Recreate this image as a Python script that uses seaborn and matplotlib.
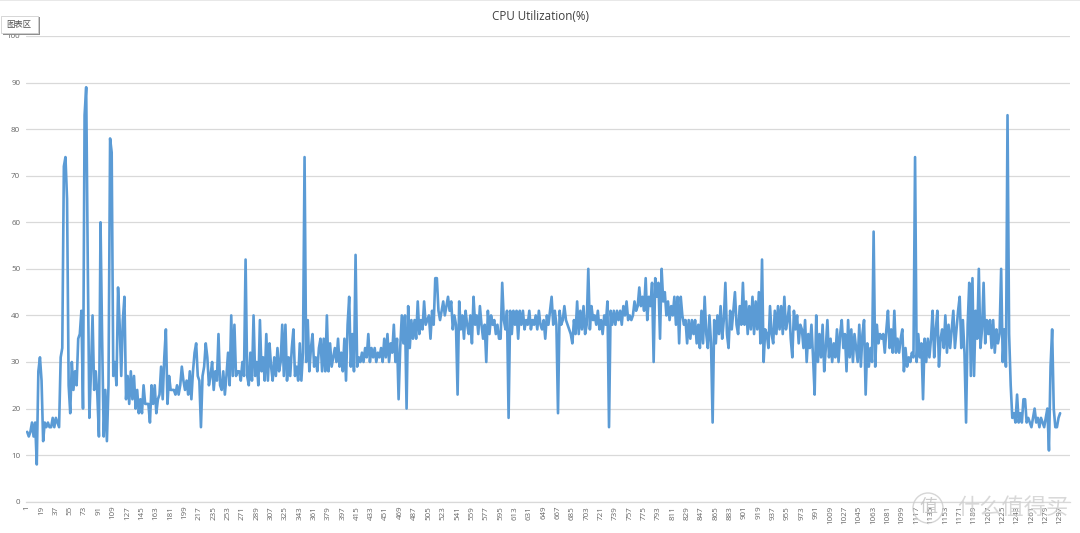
import matplotlib.pyplot as plt
from matplotlib.patches import Circle, Rectangle
import numpy as np
import pandas as pd
import seaborn as sns

# values, one reading every 2 samples, one row per tick interval (18 samples)
cpu_start = [
    15, 14, 15, 17, 14, 17, 8, 28, 31,
    26, 13, 17, 16, 17, 16, 16, 18, 16,
    18, 17, 16, 31, 33, 72, 74, 65, 25,
    19, 30, 24, 28, 25, 35, 36, 41, 20,
    83, 89, 51, 18, 28, 40, 24, 28, 23,
    14, 60, 35, 14, 24, 13, 25, 78, 75,
    27, 30, 25, 46, 38, 27, 39, 44, 22,
    27, 21, 28, 22, 27, 20, 24, 19, 22,
    19, 25, 21, 21, 21, 17, 25, 21, 25,
    19, 22, 23, 29, 22, 31, 37, 21, 27,
]
cpu_rise = [
    24, 24, 24, 23, 25, 23, 25, 29, 26,
    24, 26, 23, 28, 22, 28, 32, 34, 27,
    26, 16, 27, 29, 34, 31, 25, 27, 30,
    24, 28, 26, 36, 25, 24, 28, 23, 27,
    32, 25, 40, 27, 38, 27, 28, 28, 26,
    30, 27, 52, 27, 25, 32, 26, 40, 27,
    30, 25, 39, 28, 31, 26, 36, 26, 34,
    29, 26, 31, 27, 33, 28, 30, 38, 27,
    38, 26, 31, 27, 33, 37, 27, 29, 26,
    34, 26, 32, 74, 30, 39, 28, 33, 36,
    29, 31, 28, 33, 35, 28, 35, 28, 40,
    28, 34, 29, 31, 33, 30, 35, 29, 32,
    28, 35, 26, 38, 44, 29, 36, 28, 53,
    29, 31, 30, 32, 30, 33, 31, 36, 30,
    33, 31, 33, 30, 32, 31, 33, 30, 35,
    31, 36, 30, 34, 32, 38, 30, 35, 22,
]
cpu_plateau = [
    33, 40, 34, 40, 20, 42, 33, 39, 35,
    39, 35, 43, 36, 39, 37, 43, 38, 39,
    40, 35, 41, 38, 48, 48, 41, 39, 41,
    43, 40, 42, 44, 41, 43, 37, 40, 38,
    23, 43, 37, 40, 35, 41, 38, 36, 40,
    34, 44, 38, 40, 36, 42, 38, 35, 38,
    30, 41, 36, 40, 38, 39, 36, 38, 35,
    35, 47, 39, 37, 41, 18, 41, 36, 41,
    38, 41, 35, 41, 38, 41, 37, 39, 38,
    41, 37, 39, 38, 40, 37, 41, 38, 37,
    39, 35, 40, 38, 41, 44, 38, 41, 38,
    19, 41, 38, 39, 42, 39, 38, 37, 36,
    34, 39, 36, 43, 36, 41, 37, 42, 36,
    38, 50, 37, 42, 39, 40, 38, 41, 37,
    39, 36, 40, 38, 43, 16, 41, 38, 41,
    38, 41, 39, 41, 38, 42, 40, 43, 39,
    40, 39, 40, 43, 41, 42, 46, 42, 44,
    41, 48, 39, 44, 42, 47, 30, 48, 44,
    47, 35, 50, 43, 45, 40, 43, 39, 42,
    40, 44, 38, 44, 34, 44, 40, 38, 39,
    34, 39, 35, 39, 36, 39, 34, 38, 33,
    41, 34, 44, 36, 33, 40, 34, 17, 39,
    34, 40, 36, 42, 35, 39, 47, 36, 33,
    41, 37, 41, 45, 38, 36, 42, 38, 47,
    38, 43, 36, 42, 37, 44, 36, 43, 37,
]
cpu_fall = [
    45, 34, 52, 30, 37, 36, 33, 42, 36,
    34, 41, 36, 42, 37, 42, 36, 44, 37,
    39, 42, 35, 31, 41, 37, 40, 34, 38,
    37, 33, 39, 30, 36, 33, 38, 31, 23,
    40, 30, 36, 31, 38, 28, 33, 39, 31,
    35, 30, 34, 31, 37, 30, 36, 39, 33,
    36, 28, 39, 31, 37, 30, 36, 33, 30,
    38, 29, 36, 39, 23, 34, 29, 33, 30,
    58, 29, 38, 34, 36, 35, 36, 32, 37,
    41, 33, 37, 32, 41, 32, 35, 32, 35,
    37, 28, 33, 29, 31, 30, 32, 31, 74,
    30, 36, 31, 34, 22, 35, 30, 35, 31,
    35, 41, 31, 37, 41, 29, 35, 37, 33,
    40, 32, 38, 33, 37, 41, 33, 37, 41,
    44, 33, 39, 32, 17, 38, 47, 27, 48,
    27, 41, 35, 50, 33, 37, 47, 34, 39,
    36, 39, 33, 39, 32, 37, 34, 36, 50,
    30, 37, 29, 83, 36, 25, 18, 19, 17,
    23, 17, 19, 17, 22, 22, 17, 18, 17,
    16, 18, 20, 17, 18, 16, 18, 17, 16,
    18, 20, 11, 29, 37, 20, 16, 16, 18,
    19,
]
tick_labels = list(range(1, 1298, 18))
y_ticks = [0, 10, 20, 30, 40, 50, 60, 70, 80, 90, 100]

cpu = cpu_start + cpu_rise + cpu_plateau + cpu_fall
df = pd.DataFrame({"sample": np.arange(len(cpu)) * 2 + 1, "cpu": cpu})

sns.set_style("white")
plt.rcParams["font.family"] = ["Noto Sans CJK SC", "DejaVu Sans"]

fig = plt.figure(figsize=(10.8, 5.33), dpi=100)
ax = fig.add_axes([25.8 / 1080, 1 - 501.7 / 533, (1070 - 25.8) / 1080, (501.7 - 36) / 533])

sns.lineplot(data=df, x="sample", y="cpu", ax=ax, color="#5b9bd5", linewidth=1.9)

ax.set_xlim(-0.76, 1309.4)
ax.set_ylim(0, 100)
ax.set_xlabel("")
ax.set_ylabel("")
ax.set_xticks(tick_labels)
ax.set_xticklabels(tick_labels, rotation=90, fontsize=5.8, color="#666666", family="Open Sans")
ax.set_yticks(y_ticks)
ax.set_yticklabels(y_ticks, fontsize=5.8, color="#666666", family="Open Sans")
ax.tick_params(axis="x", length=0, pad=3)
ax.tick_params(axis="y", length=0, pad=4)
ax.yaxis.grid(True, color="#d9d9d9", linewidth=0.9)
ax.set_axisbelow(True)
for name in ["top", "right", "left"]:
    ax.spines[name].set_visible(False)
ax.spines["bottom"].set_color("#d9d9d9")
ax.spines["bottom"].set_linewidth(0.9)

fig.text(541 / 1080, 1 - 16 / 533, "CPU Utilization(%)", ha="center", va="center",
         fontsize=8.4, color="#404040", family="Open Sans")

# thin line along the top of the screenshot
fig.add_artist(Rectangle((0, 1 - 1.2 / 533), 1, 1.2 / 533, transform=fig.transFigure, color="#e8e8e8", lw=0))

# excel tooltip box
fig.add_artist(Rectangle((3 / 1080, 1 - 35 / 533), 36.5 / 1080, 17.5 / 533, transform=fig.transFigure,
                         facecolor="#8f8f8f", edgecolor="none", zorder=5))
fig.add_artist(Rectangle((0.5 / 1080, 1 - 33 / 533), 37 / 1080, 17 / 533, transform=fig.transFigure,
                         facecolor="white", edgecolor="#d0d0d0", linewidth=0.6, zorder=6))
fig.text(18.5 / 1080, 1 - 25 / 533, "图表区", ha="center", va="center", fontsize=6, color="#505050", zorder=7)

# watermark
fig.add_artist(Circle((928, 533 - 508), 15, transform=None, facecolor="none",
                      edgecolor="#cccccc", linewidth=1.0, alpha=0.8, zorder=8))
fig.text(928 / 1080, 1 - 507 / 533, "值", ha="center", va="center", fontsize=13, color="#c4c4c4",
         alpha=0.85, zorder=8)
fig.text(1013 / 1080, 1 - 507 / 533, "什么值得买", ha="center", va="center", fontsize=16, color="#cfcfcf",
         alpha=0.8, zorder=8)

fig.savefig("out.png", dpi=100)
